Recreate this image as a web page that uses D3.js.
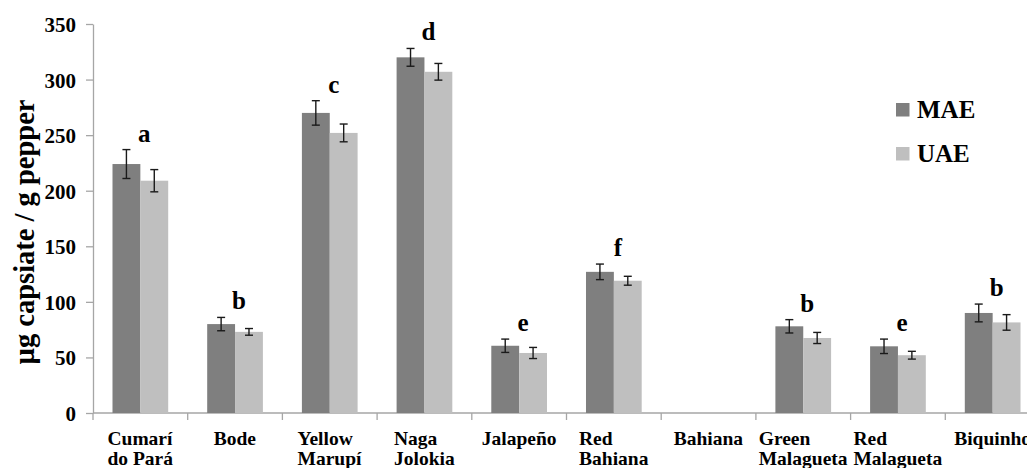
<!DOCTYPE html>
<html>
<head>
<meta charset="utf-8">
<script src="https://cdn.jsdelivr.net/npm/d3@7"></script>
<style>
  html, body { margin: 0; padding: 0; background: #fff; overflow: hidden; }
  svg { display: block; }
</style>
</head>
<body>
<svg id="chart" width="1027" height="468"></svg>
<script>
// Pepper varieties (x-axis categories), each label split into lines
const categories = ["Cumarí do Pará", "Bode", "Yellow Marupí", "Naga Jolokia", "Jalapeño",
                    "Red Bahiana", "Bahiana", "Green Malagueta", "Red Malagueta", "Biquinho"];
const categoryLines = [["Cumarí", "do Pará"], ["Bode"], ["Yellow", "Marupí"], ["Naga", "Jolokia"], ["Jalapeño"],
                       ["Red", "Bahiana"], ["Bahiana"], ["Green", "Malagueta"], ["Red", "Malagueta"], ["Biquinho"]];

// Extraction methods
const series = ["MAE", "UAE"];

// Capsiate content (µg / g pepper) and standard deviations
const maeValues = [224, 80, 270, 320, 60.5, 127, 0, 78, 60, 90];
const maeErrors = [13, 6, 11, 8, 6, 7, 0, 6, 6.5, 8];
const uaeValues = [209, 73, 252, 307, 54, 119, 0, 67.5, 52, 81.5];
const uaeErrors = [10, 3, 8, 7.5, 5, 4, 0, 5, 3.5, 7];

// Statistical grouping letters
const groupLetters = ["a", "b", "c", "d", "e", "f", "", "b", "e", "b"];

// Y-axis ticks
const yTicks = [0, 50, 100, 150, 200, 250, 300, 350];

const FONT = "'Liberation Serif', 'Times New Roman', Tinos, 'DejaVu Serif', serif";
const colors = { MAE: "#7f7f7f", UAE: "#bfbfbf" };
const axisColor = "#a6a6a6";

const svg = d3.select("#chart");

const x = d3.scaleBand().domain(categories).range([93, 1040]).padding(0);
const x1 = d3.scaleBand().domain(series).range([0, x.bandwidth()]).paddingInner(0).paddingOuter(0.7);
const y = d3.scaleLinear().domain([0, 350]).range([413, 24]);

const rows = categories.map((c, i) => ({
  cat: c,
  lines: categoryLines[i],
  letter: groupLetters[i],
  vals: [
    { key: "MAE", v: maeValues[i], e: maeErrors[i] },
    { key: "UAE", v: uaeValues[i], e: uaeErrors[i] }
  ]
}));

// Bold serif text
function styleText(sel, size) {
  sel.style("font-family", FONT)
    .style("font-weight", "bold")
    .style("font-size", size + "px")
    .style("fill", "#000");
  return sel;
}

// Y axis
const yAxis = svg.append("g")
  .attr("transform", "translate(93,0)")
  .call(d3.axisLeft(y).tickValues(yTicks).tickSize(7).tickSizeOuter(0).tickPadding(10));
yAxis.select(".domain").attr("stroke", axisColor).attr("stroke-width", 1.3);
yAxis.selectAll(".tick line").attr("stroke", axisColor).attr("stroke-width", 1.3);
styleText(yAxis.selectAll(".tick text"), 21);
yAxis.selectAll(".tick text").attr("dy", "0.36em");

// X axis baseline with tick marks at category boundaries
const xAxis = svg.append("g");
xAxis.append("line")
  .attr("x1", x.range()[0]).attr("x2", x.range()[1])
  .attr("y1", y(0)).attr("y2", y(0))
  .attr("stroke", axisColor).attr("stroke-width", 1.3);
const boundaries = categories.map(c => x(c)).concat([x.range()[1]]);
xAxis.selectAll("line.bound")
  .data(boundaries)
  .join("line")
  .attr("class", "bound")
  .attr("x1", d => d).attr("x2", d => d)
  .attr("y1", y(0)).attr("y2", y(0) + 7)
  .attr("stroke", axisColor).attr("stroke-width", 1.3);

// Bars
const groups = svg.append("g").selectAll("g.grp")
  .data(rows)
  .join("g")
  .attr("class", "grp")
  .attr("transform", d => `translate(${x(d.cat)},0)`);

groups.selectAll("rect")
  .data(d => d.vals.filter(s => s.v > 0))
  .join("rect")
  .attr("x", s => x1(s.key))
  .attr("width", x1.bandwidth())
  .attr("y", s => y(s.v))
  .attr("height", s => y(0) - y(s.v))
  .attr("fill", s => colors[s.key]);

// Error bars
const capHalf = 4;
const errs = groups.selectAll("g.err")
  .data(d => d.vals.filter(s => s.v > 0))
  .join("g")
  .attr("class", "err")
  .attr("stroke", "#1a1a1a")
  .attr("stroke-width", 1.4);
errs.append("line")
  .attr("x1", s => x1(s.key) + x1.bandwidth() / 2)
  .attr("x2", s => x1(s.key) + x1.bandwidth() / 2)
  .attr("y1", s => y(s.v + s.e))
  .attr("y2", s => y(s.v - s.e));
errs.append("line")
  .attr("x1", s => x1(s.key) + x1.bandwidth() / 2 - capHalf)
  .attr("x2", s => x1(s.key) + x1.bandwidth() / 2 + capHalf)
  .attr("y1", s => y(s.v + s.e)).attr("y2", s => y(s.v + s.e));
errs.append("line")
  .attr("x1", s => x1(s.key) + x1.bandwidth() / 2 - capHalf)
  .attr("x2", s => x1(s.key) + x1.bandwidth() / 2 + capHalf)
  .attr("y1", s => y(s.v - s.e)).attr("y2", s => y(s.v - s.e));

// Group letters above the MAE error bar
styleText(groups.filter(d => d.letter)
  .append("text")
  .attr("x", x.bandwidth() / 2 + 4)
  .attr("y", d => y(d.vals[0].v + d.vals[0].e) - 8)
  .attr("text-anchor", "middle")
  .text(d => d.letter), 25);

// Category labels: lines left-aligned inside a block centred on the band
groups.each(function (d) {
  const g = d3.select(this);
  const t = styleText(g.append("text"), 19.5);
  d.lines.forEach((ln, i) => {
    t.append("tspan").attr("x", 0).attr("y", 445 + i * 19.5).text(ln);
  });
  const w = t.node().getBBox().width;
  t.selectAll("tspan").attr("x", x.bandwidth() / 2 - w / 2);
});

// Y-axis title
styleText(svg.append("text")
  .attr("transform", "translate(34,232) rotate(-90)")
  .attr("text-anchor", "middle")
  .text("µg capsiate / g pepper"), 28.5);

// Legend
const legend = svg.append("g");
const legendY = [103, 147];
series.forEach((s, i) => {
  legend.append("rect")
    .attr("x", 896).attr("y", legendY[i])
    .attr("width", 13.5).attr("height", 13.5)
    .attr("fill", colors[s]);
  styleText(legend.append("text")
    .attr("x", 917).attr("y", legendY[i] + 15)
    .text(s), 25);
});
</script>
</body>
</html>
